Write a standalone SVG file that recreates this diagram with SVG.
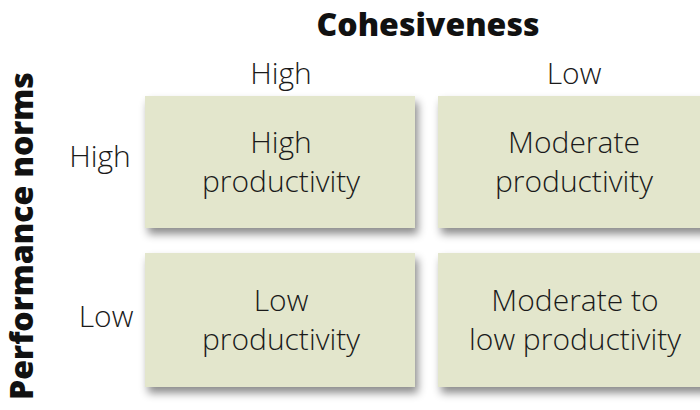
<svg xmlns="http://www.w3.org/2000/svg" width="700" height="410" viewBox="0 0 700 410">
  <style>
    .box { fill: #e3e6cc; filter: url(#shadow); }
    .t { font-family: "Open Sans", "Liberation Sans", sans-serif; font-size: 30px; fill: #1a1a1a; text-anchor: middle; font-weight: 300; }
    .h { font-family: "Open Sans", "Liberation Sans", sans-serif; font-size: 32px; font-weight: 800; fill: #111; text-anchor: middle; }
  </style>
  <defs>
    <filter id="shadow" x="-10%" y="-10%" width="125%" height="135%">
      <feDropShadow dx="3" dy="6" stdDeviation="4.5" flood-color="#000" flood-opacity="0.45"/>
    </filter>
  </defs>
  <rect width="700" height="410" fill="#ffffff"/>
  <g id="title-col"><text class="h" x="428" y="36">Cohesiveness</text></g>
  <g id="title-row"><text class="h" transform="translate(33,236) rotate(-90)">Performance norms</text></g>
  <g id="col-high"><text class="t" x="281" y="84">High</text></g>
  <g id="col-low"><text class="t" x="574" y="84">Low</text></g>
  <g id="row-high"><text class="t" x="100" y="167">High</text></g>
  <g id="row-low"><text class="t" x="106" y="327">Low</text></g>
  <g id="cell-hh">
    <rect class="box" x="145" y="96" width="270" height="132"/>
    <text class="t" x="281" y="153">High</text>
    <text class="t" x="281" y="192">productivity</text>
  </g>
  <g id="cell-hl">
    <rect class="box" x="438" y="96" width="270" height="132"/>
    <text class="t" x="574" y="153">Moderate</text>
    <text class="t" x="574" y="192">productivity</text>
  </g>
  <g id="cell-lh">
    <rect class="box" x="145" y="253" width="270" height="134"/>
    <text class="t" x="281" y="311">Low</text>
    <text class="t" x="281" y="350">productivity</text>
  </g>
  <g id="cell-ll">
    <rect class="box" x="438" y="253" width="270" height="134"/>
    <text class="t" x="575" y="311">Moderate to</text>
    <text class="t" x="575" y="350">low productivity</text>
  </g>
  <g id="connectors"/>
</svg>
